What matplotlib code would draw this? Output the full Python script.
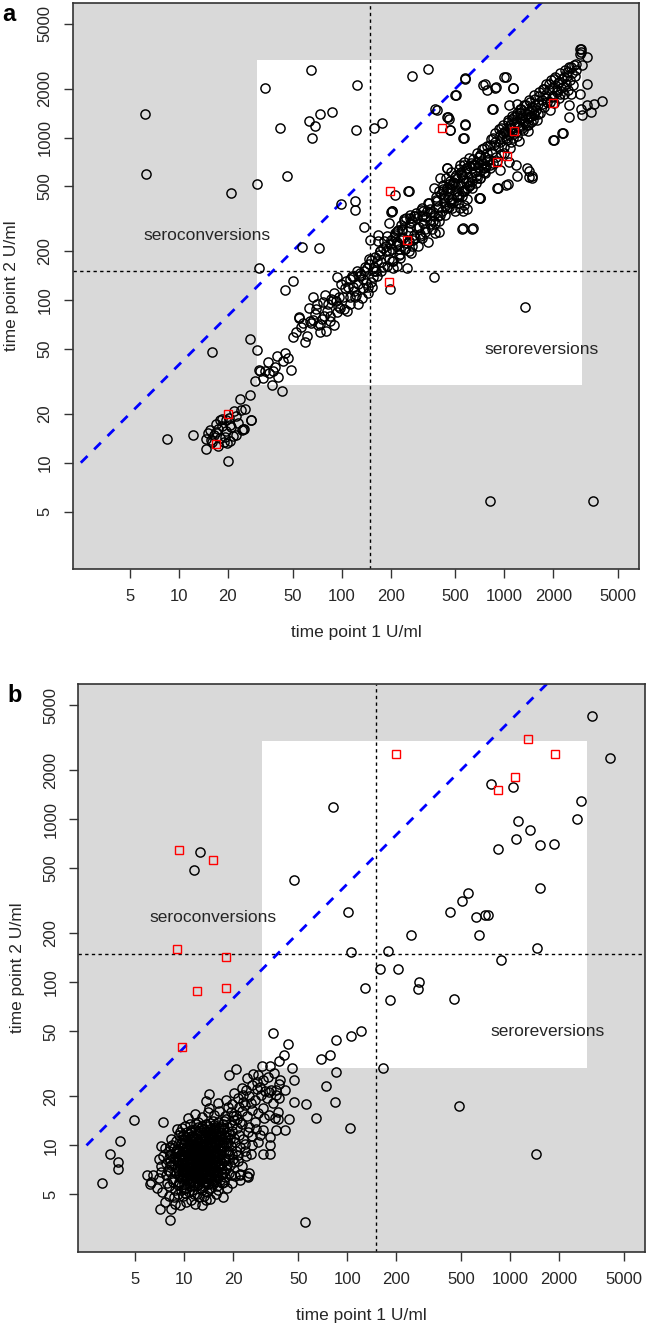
import matplotlib
matplotlib.use('Agg')
import matplotlib.pyplot as plt
from matplotlib.patches import Rectangle
import numpy as np

plt.rcParams['font.family'] = ['Liberation Sans', 'DejaVu Sans']

# ---------------- data, U/ml ----------------
tick_vals = [5, 10, 20, 50, 100, 200, 500, 1000, 2000, 5000]
tick_labels = ['5', '10', '20', '50', '100', '200', '500', '1000', '2000', '5000']
cutoff = 150
box_lo, box_hi = 30, 3000
ratio_line_x = [2.5, 2500]
ratio_line_y = [10, 10000]

# panel a: black circles
a_low = [(8.5, 14.0), (12.2, 14.8), (14.6, 12.1), (14.7, 13.9), (15.5, 16.0), (15.7, 13.8),
         (17.4, 16.2), (17.8, 18.2), (19.4, 18.2), (20.7, 17.0), (22.6, 14.8), (25.0, 16.2),
         (27.9, 18.2), (24.2, 21.0), (25.6, 21.3), (23.7, 24.5), (27.3, 26.2), (19.2, 14.4),
         (19.9, 13.3), (20.1, 10.3), (16.0, 13.4), (17.0, 15.5), (18.5, 16.8), (19.5, 15.6),
         (21.0, 16.5), (18.0, 14.2), (19.0, 13.5), (20.5, 13.6), (21.5, 14.6), (23.0, 17.5),
         (24.5, 16.0), (17.5, 12.6), (22.5, 19.5), (18.5, 18.7), (16.5, 14.8), (20.3, 18.9),
         (21.8, 20.8), (15.0, 15.2), (16.8, 17.2), (24.8, 16.2), (27.8, 18.2)]
a_mid = [(27.5, 58), (30, 49), (55, 78), (31.4, 36.4), (33.6, 36.9), (35.3, 41.5), (40.1, 45.6),
         (43.5, 42.5), (37.9, 36.9), (37.1, 30.2), (29.5, 31.6), (48.7, 37.3), (43.3, 27.6),
         (40.7, 33.6), (31, 37), (33, 33), (36, 35.5), (39, 39), (45, 47), (47, 44), (50.4, 59),
         (52.8, 63.4), (54.8, 79), (56.6, 68), (59.4, 55), (62.6, 90), (63.8, 74.8), (66.8, 104),
         (68.5, 82), (70.8, 94.6), (73.5, 71.3), (75.6, 76.5), (78.9, 108), (81.6, 86),
         (84.8, 74.8), (80.7, 64.9), (89.7, 111), (92.3, 99), (97.7, 90), (102, 104), (93, 139),
         (107, 131), (110, 120), (113, 104), (119, 114), (126, 94.6), (126, 126), (117, 138),
         (132, 143), (124, 151), (143, 158), (136, 135), (148, 166), (157, 151), (153, 120),
         (146, 111), (164, 174), (172, 200), (180, 210), (194, 200), (208, 158), (218, 162),
         (251, 158), (198, 117), (168, 231), (189, 248), (194, 299), (203, 352), (218, 266),
         (240, 306), (264, 321), (283, 242), (290, 279), (318, 336), (334, 352), (350, 361),
         (367, 336), (394, 306), (350, 292), (311, 242), (270, 215), (258, 200), (229, 191),
         (223, 220), (251, 225), (423, 425), (465, 405), (443, 467), (511, 446), (561, 467),
         (617, 513), (561, 387), (536, 369), (678, 564), (746, 649), (647, 681), (561, 681),
         (695, 425), (589, 361), (488, 525), (394, 467), (475, 369), (367, 490), (443, 649),
         (536, 681), (603, 747), (711, 783), (782, 713), (213, 446), (201, 349), (137, 282),
         (149, 233), (168, 253), (556, 276), (641, 276), (711, 425), (257, 471),
         (58, 72), (61, 60), (65, 72), (72, 70), (77, 97), (85, 80), (88, 100), (95, 92),
         (99, 125), (104, 88), (115, 140), (120, 104), (130, 146), (135, 118), (140, 160),
         (145, 120), (151, 176), (155, 138), (161, 185), (165, 141), (171, 200), (175, 150),
         (186, 215), (190, 162), (201, 235), (206, 175), (214, 250), (226, 190), (236, 275),
         (246, 205), (262, 300), (276, 235), (284, 330), (302, 255), (309, 360), (326, 275),
         (341, 395), (362, 305), (378, 430), (402, 335), (418, 480), (441, 370), (458, 520),
         (482, 400), (499, 570), (522, 440), (538, 610), (562, 470), (579, 650), (602, 500),
         (82, 95), (90, 70), (96, 105), (105, 118), (108, 86), (112, 135), (118, 120), (123, 108),
         (128, 140), (133, 103), (138, 150), (142, 128), (147, 180), (152, 130), (158, 160),
         (163, 150), (169, 190), (174, 172), (180, 160), (183, 230), (188, 200), (195, 180),
         (199, 220), (204, 205), (209, 245), (216, 218), (222, 270), (230, 240), (112, 95),
         (94, 84), (86, 102), (78, 80), (70, 88), (67, 75), (74, 64)]
a_up = [(318, 352), (350, 344), (290, 320), (264, 335), (240, 317), (385, 405), (423, 444),
        (443, 488), (476, 512), (511, 562), (548, 589), (589, 647), (632, 678), (678, 711),
        (711, 782), (746, 858), (820, 899), (880, 942), (944, 1035), (1014, 1086), (1088, 1191),
        (1114, 1309), (1197, 1374), (1254, 1507), (1315, 1581), (1412, 1695), (1517, 1820),
        (1627, 1906), (1746, 2000), (1875, 2143), (2014, 2301), (2163, 2197), (2319, 2355),
        (2432, 2529), (2548, 2714), (2735, 2844), (2936, 3351), (2936, 3515), (561, 990),
        (575, 1191), (465, 1112), (385, 1473), (443, 1340), (454, 1309), (506, 1837),
        (575, 2301), (757, 2124), (782, 1953), (893, 2046), (1028, 2355), (1130, 2028),
        (851, 1493), (1064, 1581), (1197, 1618), (399, 562), (443, 647), (203, 352), (258, 470),
        (1380, 647), (1480, 576), (1480, 562), (2014, 966), (2296, 1069), (1186, 583),
        (1028, 512), (901, 488), (944, 632), (1064, 711), (1169, 678), (764, 603), (820, 678),
        (711, 562), (2490, 1341), (2490, 1581), (2936, 1507), (3006, 1374), (3228, 1581),
        (3388, 1439), (3548, 1618), (3954, 1671), (2548, 1862), (2897, 1862), (3228, 2143),
        (3006, 2780), (3228, 3126), (2897, 3480), (2897, 3275), (556, 352), (550, 274),
        (636, 274), (707, 425), (914, 489), (1057, 517), (1417, 625), (1417, 571), (2000, 966),
        (2260, 1061), (375, 1490), (448, 1343), (461, 1114), (576, 1205), (556, 989),
        (842, 1497), (736, 2099), (877, 2028), (997, 2360), (1128, 2028)]
a_fill = [(205, 175), (212, 260), (219, 228), (227, 182), (233, 290), (238, 240), (244, 205),
          (249, 318), (255, 268), (261, 231), (266, 195), (272, 305), (279, 252), (286, 344),
          (293, 214), (298, 282), (304, 248), (311, 370), (318, 296), (325, 262), (331, 325),
          (338, 228), (345, 395), (351, 310), (359, 272), (366, 348), (372, 300), (380, 410),
          (388, 330), (395, 262), (392, 372), (372, 258), (310, 330), (280, 330), (262, 280),
          (236, 265), (226, 205),
          (405, 452), (412, 355), (418, 512), (426, 404), (433, 332), (440, 560), (447, 430),
          (455, 372), (462, 488), (470, 610), (478, 418), (486, 530), (494, 352), (502, 585),
          (510, 470), (519, 398), (528, 642), (536, 512), (545, 440), (554, 565), (563, 705),
          (572, 482), (581, 615), (590, 420), (600, 535), (611, 670), (622, 572), (633, 486),
          (645, 735), (657, 612), (668, 525), (680, 805), (692, 655), (705, 560), (718, 720),
          (731, 845), (745, 612), (758, 760), (772, 668), (786, 890), (800, 735), (420, 470),
          (460, 540), (500, 510), (540, 600), (580, 530), (620, 700), (660, 680), (700, 760),
          (740, 700), (780, 800), (430, 380), (470, 395), (510, 430), (550, 470), (590, 490),
          (630, 540), (670, 580), (710, 620), (750, 660),
          (812, 650), (825, 980), (838, 820), (851, 700), (865, 905), (879, 1060), (893, 760),
          (907, 870), (922, 1130), (937, 940), (952, 790), (967, 1010), (982, 1200), (998, 880),
          (1014, 1090), (1030, 960), (1046, 1280), (1063, 1040), (1080, 860), (1097, 1150),
          (1115, 1360), (1133, 990), (1151, 1220), (1170, 1080), (1189, 1420), (1208, 1170),
          (1227, 950), (1247, 1300), (1267, 1500), (1287, 1140), (1308, 1380), (1329, 1230),
          (1350, 1580), (1372, 1320), (1394, 1100), (1416, 1450), (1439, 1660), (1462, 1250),
          (1485, 1540), (1509, 1380), (1533, 1720), (1558, 1470), (1583, 1290), (1608, 1610),
          (850, 1000), (950, 1150), (1050, 1240), (1150, 1330), (1250, 1420), (1350, 1190),
          (1450, 1350), (1550, 1580), (900, 720), (1000, 800), (1100, 940), (1200, 1020),
          (1300, 1110), (1400, 1200), (1500, 1280), (1600, 1390), (980, 1060), (1080, 1140),
          (1180, 1250), (1280, 1320), (1380, 1400), (1480, 1480), (1020, 1000), (1120, 1080),
          (1220, 1160), (1320, 1260), (1420, 1330), (1520, 1420),
          (1635, 1810), (1662, 1420), (1690, 1690), (1718, 1980), (1746, 1540), (1775, 1830),
          (1804, 2120), (1834, 1660), (1864, 1950), (1895, 1470), (1926, 2250), (1958, 1780),
          (1990, 2060), (2023, 1620), (2056, 2360), (2090, 1900), (2124, 2180), (2159, 1740),
          (2195, 2480), (2231, 2010), (2268, 2290), (2305, 1850), (2343, 2600), (2382, 2130),
          (2421, 2400), (2461, 1960), (2502, 2700), (2543, 2250), (2585, 2500), (2628, 2100),
          (2671, 2800), (2715, 2380), (2760, 2620), (1700, 1600), (1800, 1750), (1900, 1650),
          (2000, 1800), (2100, 1950), (2200, 1850), (2300, 2050)]
a_out = [(6.2, 1400), (6.3, 600), (21, 455), (30, 520), (34, 2030), (65, 2600), (125, 2100),
         (42, 1140), (63, 1264), (69, 1183), (74, 1393), (87, 1426), (66, 1000), (46, 580),
         (122, 1110), (157, 1140), (178, 1230), (272, 2400), (338, 2650), (500, 1820),
         (570, 2330), (98.5, 392), (121.6, 405), (121.6, 357), (57, 212), (73, 208), (31, 158),
         (50, 131), (45, 115), (370, 139), (1345, 91), (16, 48), (820, 5.85), (3500, 5.85)]
a_red = [(17, 13), (20, 19.8), (194, 129), (197, 467), (252, 234), (415, 1140), (900, 705),
         (1030, 770), (1150, 1090), (1990, 1640)]

# panel b: black circles
b_cluster = [(8.3, 4.1), (8.8, 4.4), (9.4, 4.3), (10.2, 4.5), (10.9, 4.6), (11.6, 4.4), (12.3, 4.8),
             (13.1, 4.9), (9.8, 4.9), (8.6, 4.8), (14.4, 4.7), (12.8, 4.3), (15.6, 5.0), (17.2, 4.8),
             (7.6, 4.5), (7.3, 5.2), (8.0, 5.6), (8.7, 5.3), (9.3, 5.8), (9.9, 5.4), (10.6, 5.9),
             (11.2, 5.3), (11.9, 5.7), (12.6, 5.5), (13.3, 5.9), (14.1, 5.4), (14.9, 5.8),
             (15.8, 5.6), (16.9, 5.9), (18.3, 5.5), (10.1, 5.1), (12.0, 5.0), (13.8, 5.2), (7.8, 5.9),
             (6.8, 5.5), (19.5, 5.9), (22.0, 6.1), (7.0, 6.3), (7.7, 6.6), (8.4, 6.2), (8.9, 6.8),
             (9.5, 6.4), (10.0, 6.9), (10.5, 6.2), (11.0, 6.7), (11.6, 6.3), (12.1, 6.9), (12.7, 6.4),
             (13.2, 6.8), (13.9, 6.2), (14.6, 6.6), (15.3, 6.9), (16.1, 6.3), (16.9, 6.7), (17.8, 6.4),
             (18.9, 6.8), (20.4, 6.5), (9.2, 6.0), (11.3, 6.0), (13.5, 6.0), (15.2, 6.1), (21.9, 6.6),
             (24.3, 6.5), (24.8, 6.8), (6.4, 6.6), (6.2, 6.0), (7.2, 7.5), (7.9, 7.1), (8.5, 7.7),
             (9.0, 7.3), (9.6, 7.8), (10.1, 7.2), (10.7, 7.6), (11.2, 7.1), (11.8, 7.9), (12.3, 7.4),
             (12.9, 7.8), (13.4, 7.2), (14.0, 7.7), (14.7, 7.3), (15.4, 7.9), (16.2, 7.4), (17.0, 7.8),
             (17.9, 7.2), (19.0, 7.6), (20.2, 7.9), (8.1, 8.0), (10.4, 8.0), (12.6, 8.1), (14.3, 8.1),
             (16.6, 8.2), (9.3, 7.0), (11.5, 7.0), (13.7, 7.0), (15.9, 7.0), (22.5, 7.5), (7.4, 8.6),
             (8.2, 8.9), (8.8, 8.3), (9.4, 8.7), (9.9, 8.2), (10.5, 8.8), (11.0, 8.4), (11.6, 8.9),
             (12.1, 8.3), (12.8, 8.7), (13.3, 8.2), (13.9, 8.8), (14.5, 8.4), (15.2, 8.9), (16.0, 8.5),
             (16.8, 8.9), (17.7, 8.4), (18.8, 8.8), (20.0, 8.3), (21.3, 8.7), (9.1, 9.0), (11.3, 9.1),
             (13.6, 9.0), (15.6, 9.2), (7.0, 8.2), (24.0, 8.6), (25.5, 8.9), (7.6, 9.6), (8.4, 10.1),
             (9.0, 9.5), (9.7, 10.3), (10.2, 9.7), (10.8, 10.2), (11.4, 9.6), (12.0, 10.4),
             (12.6, 9.8), (13.2, 10.3), (13.8, 9.6), (14.5, 10.1), (15.3, 9.7), (16.1, 10.4),
             (17.0, 9.8), (18.0, 10.3), (19.2, 9.9), (20.5, 10.5), (22.0, 9.8), (23.5, 10.2),
             (8.0, 9.2), (11.7, 9.3), (14.0, 9.4), (16.5, 9.4), (10.4, 10.6), (12.9, 10.7), (7.2, 9.9),
             (8.3, 11.0), (9.2, 11.5), (9.9, 10.9), (10.6, 11.8), (11.3, 11.2), (12.0, 11.7),
             (12.7, 11.0), (13.4, 11.6), (14.2, 11.1), (15.0, 11.8), (15.9, 11.3), (16.8, 11.9),
             (17.8, 11.2), (18.9, 11.7), (20.1, 11.1), (21.5, 11.6), (23.0, 11.0), (11.0, 12.0),
             (13.9, 12.1), (9.4, 12.0), (19.6, 12.2), (24.5, 12.0), (26.0, 11.4), (9.0, 12.6),
             (10.1, 13.2), (10.9, 12.5), (11.8, 13.5), (12.6, 12.8), (13.5, 13.6), (14.4, 12.6),
             (15.3, 13.3), (16.2, 12.7), (17.2, 13.6), (18.3, 12.9), (19.5, 13.4), (21.0, 12.8),
             (22.6, 13.5), (12.2, 14.0), (14.9, 14.2), (17.6, 14.1), (20.3, 14.3), (25.0, 13.0),
             (27.5, 12.6), (30.5, 12.4), (10.5, 14.8), (11.6, 15.5), (12.8, 15.0), (13.9, 16.0),
             (15.1, 15.3), (16.4, 16.2), (17.8, 15.1), (19.2, 16.0), (20.8, 15.4), (22.5, 16.3),
             (24.2, 15.2), (26.0, 16.4), (14.1, 17.0), (18.5, 17.2), (23.5, 17.6), (28.5, 15.8),
             (30.5, 17.0), (21.0, 14.5), (33.0, 15.3), (36.0, 14.8), (16.0, 18.3), (17.9, 19.1),
             (19.5, 18.0), (21.2, 19.6), (23.0, 18.5), (25.0, 20.0), (27.2, 19.0), (29.5, 20.5),
             (32.0, 19.5), (20.2, 21.0), (24.0, 21.8), (28.0, 22.3), (31.2, 21.5), (34.0, 22.0),
             (22.5, 22.6), (26.0, 23.5), (13.5, 18.8), (36.5, 20.5), (9.8, 6.6), (10.3, 7.4),
             (10.8, 7.0), (11.1, 7.8), (11.5, 6.5), (11.9, 7.3), (12.2, 6.7), (12.5, 7.6), (12.9, 7.0),
             (13.2, 7.5), (13.6, 6.6), (10.6, 8.4), (11.2, 8.6), (11.8, 8.2), (12.4, 8.8), (13.0, 8.4),
             (13.5, 8.6), (9.9, 7.6), (9.5, 8.5), (10.0, 9.2), (10.7, 9.0), (11.4, 9.4), (12.2, 9.1),
             (12.8, 9.4), (13.3, 9.1), (14.1, 8.6), (14.4, 7.0), (14.8, 7.6), (10.2, 6.4), (10.9, 6.0),
             (11.6, 5.9), (12.4, 6.1), (13.0, 6.2), (9.6, 6.9), (9.1, 7.9), (9.7, 9.6), (11.0, 10.0),
             (12.4, 10.1), (13.6, 10.0), (14.6, 9.2), (15.0, 8.0), (15.5, 7.1), (8.7, 7.0), (8.3, 7.6),
             (8.6, 8.5), (8.9, 9.2), (10.1, 7.9), (10.4, 7.0), (10.9, 8.2), (11.3, 7.4), (11.7, 8.6),
             (12.0, 7.0), (12.3, 7.9), (12.7, 8.3), (13.1, 7.2), (13.4, 8.0), (13.8, 7.6), (14.2, 8.2),
             (10.6, 6.6), (11.4, 6.8), (12.6, 6.8), (9.4, 7.4), (9.2, 8.2), (10.0, 8.6), (11.0, 9.6),
             (12.0, 9.7),
             (9.1, 5.7), (9.6, 6.2), (10.0, 5.8), (10.4, 6.5), (10.8, 5.6), (11.1, 6.2), (11.5, 5.6),
             (11.9, 6.4), (12.3, 5.8), (12.7, 6.2), (13.1, 5.6), (13.5, 6.4), (13.9, 5.8), (14.3, 6.3),
             (14.7, 6.0), (15.1, 6.5), (15.6, 6.2), (16.0, 6.8), (9.3, 6.6), (9.8, 7.1), (10.2, 6.8),
             (10.6, 7.3), (11.0, 6.9), (11.4, 7.6), (11.8, 7.2), (12.2, 7.7), (12.6, 7.1), (13.0, 7.7),
             (13.4, 6.9), (13.8, 7.4), (14.2, 7.0), (14.6, 7.9), (15.0, 7.3), (15.4, 7.6), (15.8, 8.0),
             (16.3, 7.7), (9.0, 8.0), (9.5, 7.7), (9.9, 8.4), (10.3, 8.2), (10.7, 8.7), (11.1, 8.3),
             (11.5, 8.8), (11.9, 8.5), (12.3, 9.0), (12.7, 8.5), (13.1, 9.0), (13.5, 8.4), (13.9, 9.2),
             (14.3, 8.8), (14.7, 9.4), (15.1, 8.6), (15.5, 9.0), (16.0, 9.6), (16.5, 8.8), (9.3, 9.2),
             (9.7, 8.9), (10.1, 9.5), (10.5, 9.3), (10.9, 9.8), (11.3, 10.2), (11.7, 9.9), (12.1, 10.6),
             (12.5, 10.3), (12.9, 9.9), (13.3, 10.6), (13.7, 10.2), (14.1, 10.9), (14.5, 10.5),
             (14.9, 11.2), (15.3, 10.6), (15.7, 11.0), (16.2, 10.7), (10.0, 10.3), (10.6, 10.9),
             (11.2, 11.4), (11.8, 11.1), (12.4, 11.9), (13.0, 11.4), (13.6, 12.2), (14.3, 11.7),
             (15.0, 12.4), (15.7, 12.0), (16.5, 11.6), (17.3, 12.4), (17.0, 10.5), (17.6, 9.8),
             (18.2, 11.3), (18.6, 9.2), (17.5, 8.0), (18.2, 7.6), (16.9, 7.2), (17.4, 6.0), (8.5, 6.0),
             (8.1, 6.9), (7.7, 7.8), (8.0, 8.4), (8.6, 9.6), (9.5, 10.4), (10.2, 11.2), (11.6, 12.6),
             (12.9, 13.1), (14.0, 13.2), (16.1, 13.9), (18.0, 14.6), (19.8, 15.1), (21.5, 17.1),
             (22.0, 13.9), (19.0, 10.9), (20.6, 9.3), (21.2, 8.0), (19.4, 6.6), (16.0, 5.3),
             (13.6, 4.6), (11.4, 5.0), (9.1, 5.0), (8.0, 4.9), (7.2, 6.9),
             (26.5, 27.5), (24.3, 25.8), (27.8, 24.4), (30.2, 25.0), (32.5, 26.2), (29.1, 22.9),
             (25.6, 18.3), (23.0, 20.5), (35.0, 18.2), (38.0, 19.6), (27.0, 14.0), (31.0, 14.8),
             (29.0, 11.5), (26.0, 10.1), (23.5, 9.3),
             (14.8, 10.0), (15.6, 10.2), (16.4, 10.1), (17.2, 11.0), (15.2, 11.5), (16.0, 12.2),
             (14.6, 12.0), (13.2, 12.6), (12.2, 12.3), (11.0, 11.4), (10.3, 12.1), (9.8, 11.6),
             (16.7, 9.3), (17.9, 9.2), (18.4, 10.4), (17.6, 12.8), (16.8, 13.0), (15.5, 13.0),
             (13.0, 9.6), (12.0, 8.9), (10.4, 9.9), (9.6, 10.9), (13.9, 10.6), (14.5, 11.4),
             (15.9, 9.0), (16.6, 7.5), (15.8, 6.6), (14.8, 6.9), (13.2, 6.4), (11.8, 6.6),
             (10.2, 5.5), (9.5, 5.3), (10.6, 5.2), (12.9, 5.3), (14.5, 5.5), (16.5, 6.1), (17.6, 6.9),
             (18.6, 8.3), (19.5, 8.9), (18.0, 12.0), (12.2, 12.9), (10.8, 13.5), (9.7, 12.8),
             (8.9, 10.6), (8.1, 9.8), (9.9, 10.2), (11.5, 10.7), (13.4, 11.1), (15.4, 12.8),
             (14.3, 13.8)]
b_out = [(770, 1650), (1040, 1580), (2750, 1290), (2580, 1010), (1130, 970), (1330, 860),
         (1090, 760), (1530, 690), (1870, 705), (840, 655), (1530, 380), (556, 353), (510, 315),
         (430, 270), (620, 250), (700, 258), (730, 258), (650, 195), (247, 195), (1465, 163),
         (178, 156), (880, 137), (160, 121), (206, 121), (278, 101), (271, 91), (128, 92),
         (184, 78), (455, 79), (4140, 2390), (3180, 4300), (82, 1195), (12.4, 630), (11.4, 490),
         (47, 425), (101, 270), (105, 154), (35, 49), (43, 42), (41, 36), (38, 33), (46, 30),
         (47, 25), (69, 34), (78, 36), (85, 44), (105, 47), (122, 50), (166, 30), (85, 28),
         (74, 23), (84, 18.4), (56, 18), (47, 18.4), (64, 14.7), (104, 12.7), (485, 17.5),
         (1450, 8.9), (55, 3.4), (3.1, 5.9), (3.5, 8.9), (3.9, 7.9), (3.9, 7.2), (4.0, 10.7),
         (4.9, 14.3), (7.4, 13.9), (8.2, 3.5), (7.1, 4.05), (5.9, 6.6), (6.1, 5.8), (14.2, 20.6),
         (18.8, 26.9), (20.8, 29.2), (28.4, 27), (30, 30.7), (33.5, 30.7), (35.4, 27.7),
         (38.5, 25.2), (41.4, 21.8), (36.7, 21.8), (33.2, 21.3), (38.2, 23.8), (30.5, 8.85),
         (33.5, 8.9), (33.5, 10.0), (33.5, 11.2), (36.7, 12.4), (41.4, 12.4), (37.7, 14.6),
         (44, 14.6), (37.7, 16.0), (28.4, 10.5), (21.9, 6.7), (24.7, 6.4)]
b_red = [(200, 2500), (1300, 3100), (1900, 2500), (1080, 1820), (850, 1500), (9.2, 650),
         (15, 560), (9, 160), (18, 142), (12, 88), (18, 92), (9.7, 40)]

txt_col = '#262626'


def panel(ax, circles, squares, letter):
    ax.set_xscale('log')
    ax.set_yscale('log')
    ax.set_xlim(2.23, 6730)
    ax.set_ylim(2.23, 6730)
    ax.set_facecolor('#d9d9d9')
    ax.add_patch(Rectangle((box_lo, box_lo), box_hi - box_lo, box_hi - box_lo,
                           facecolor='white', edgecolor='none', zorder=0.5))
    ax.axvline(cutoff, color='black', lw=1.0, ls=(0, (2.4, 2.4)), zorder=1)
    ax.axhline(cutoff, color='black', lw=1.0, ls=(0, (2.4, 2.4)), zorder=1)
    ax.plot(ratio_line_x, ratio_line_y, color='#0000ff', lw=2.0, ls=(0, (3.4, 3.4)), zorder=1)

    cx = [p[0] for p in circles]
    cy = [p[1] for p in circles]
    ax.plot(cx, cy, 'o', ms=6.6, mfc='none', mec='black', mew=1.05, zorder=2)
    sx = [p[0] for p in squares]
    sy = [p[1] for p in squares]
    ax.plot(sx, sy, 's', ms=5.4, mfc='none', mec='#ff0000', mew=1.0, zorder=3)

    ax.text(15, 250, 'seroconversions', ha='center', va='center', fontsize=12.5, color=txt_col)
    ax.text(1700, 50, 'seroreversions', ha='center', va='center', fontsize=12.5, color=txt_col)

    ax.set_xticks(tick_vals)
    ax.set_xticklabels(tick_labels)
    ax.set_yticks(tick_vals)
    ax.set_yticklabels(tick_labels, rotation=90, va='center')
    ax.minorticks_off()
    ax.tick_params(length=6.5, width=1.0, color='#333333', labelsize=12,
                   labelcolor=txt_col, pad=8)
    for s in ax.spines.values():
        s.set_linewidth(1.2)
        s.set_color('#333333')

    ax.set_xlabel('time point 1 U/ml', fontsize=12.5, color=txt_col)
    ax.xaxis.set_label_coords(0.5, -0.113)
    ax.xaxis.label.set_va('center')
    ax.set_ylabel('time point 2 U/ml', fontsize=12.5, color=txt_col)
    ax.yaxis.set_label_coords(-0.108, 0.5)
    ax.yaxis.label.set_va('center')

    ax.text(-0.125, 1.0, letter, transform=ax.transAxes, fontsize=17, fontweight='bold',
            ha='left', va='top', color='black')


fig = plt.figure(figsize=(6.47, 13.28), dpi=100)
ax1 = fig.add_axes([0.1124, 0.5718, 0.8757, 0.4260])
panel(ax1, a_low + a_mid + a_up + a_fill + a_out, a_red, 'a')

ax2 = fig.add_axes([0.1212, 0.0575, 0.8750, 0.4273])
panel(ax2, b_cluster + b_out, b_red, 'b')

fig.savefig('out.png', dpi=100)
